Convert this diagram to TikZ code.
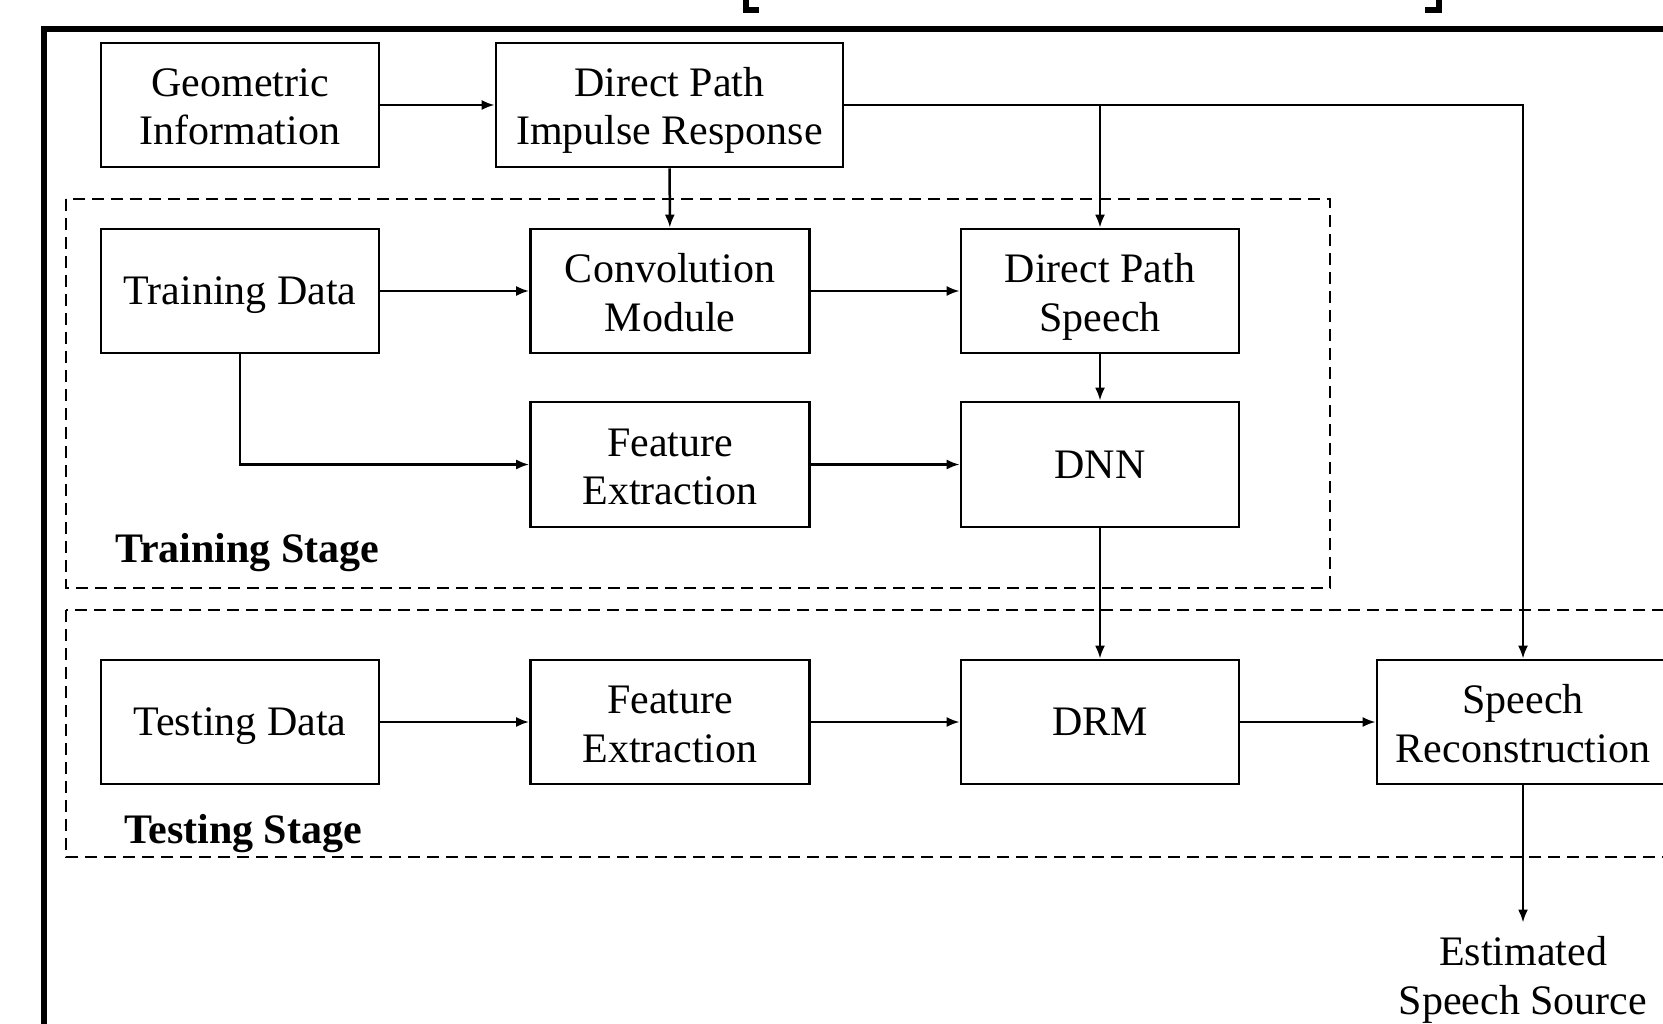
\documentclass[tikz,border=0pt]{standalone}
\usepackage{fontspec}
\setmainfont{Liberation Serif}
\usetikzlibrary{arrows.meta}
\newcommand{\Sone}[1]{\rule[-10pt]{0pt}{47.4pt}#1}
\newcommand{\Stwo}[2]{\rule{0pt}{41.7pt}#1\\\rule[-10pt]{0pt}{10pt}#2}
\tikzset{
  blk/.style={draw, line width=2.6pt, rectangle, inner sep=0pt, align=center,
    minimum height=124pt, font=\fontsize{42}{48.3}\selectfont},
  conn/.style={line width=2.5pt, -{Latex[length=13pt,width=10pt]}},
  plain/.style={line width=2.5pt},
  stagebox/.style={line width=2.6pt, dash pattern=on 12pt off 7pt},
  stagelbl/.style={anchor=base west, inner sep=0pt, font=\fontsize{42}{48}\selectfont\bfseries},
  frame/.style={line width=6pt},
}
\begin{document}
\begin{tikzpicture}[x=1pt,y=-1pt]
\clip (0,0) rectangle (1663,1024);
\fill[white] (0,0) rectangle (1663,1024);
% outer frame and cropped brackets
\draw[frame] (44,29) rectangle (1720,1100);
\draw[frame] (759,10) -- (746,10) -- (746,-5);
\draw[frame] (1425,10) -- (1439,10) -- (1439,-5);
% stage boxes
\draw[stagebox] (66,199) rectangle (1330,588);
\draw[stagebox] (66,610) rectangle (1720,857);
\node[stagelbl] (trs) at (115,562) {Training Stage};
\node[stagelbl] (tss) at (124,843) {Testing Stage};
% blocks
\node[blk, minimum width=278pt] (geo) at (240,105) {\Stwo{Geometric}{Information}};
\node[blk, minimum width=347pt] (dpir) at (669.5,105) {\Stwo{Direct Path}{Impulse Response}};
\node[blk, minimum width=278pt] (train) at (240,291) {\Sone{Training Data}};
\node[blk, minimum width=279pt] (conv) at (670,291) {\Stwo{Convolution}{Module}};
\node[blk, minimum width=278pt] (dps) at (1100,291) {\Stwo{Direct Path}{Speech}};
\node[blk, minimum width=279pt, minimum height=125pt] (fe1) at (670,464.5) {\Stwo{Feature}{Extraction}};
\node[blk, minimum width=278pt, minimum height=125pt] (dnn) at (1100,464.5) {\Sone{DNN}};
\node[blk, minimum width=278pt] (test) at (240,722) {\Sone{Testing Data}};
\node[blk, minimum width=279pt] (fe2) at (670,722) {\Stwo{Feature}{Extraction}};
\node[blk, minimum width=278pt] (drm) at (1100,722) {\Sone{DRM}};
\node[blk, minimum width=292pt] (sr) at (1523,722) {\Stwo{Speech}{Reconstruction}};
\node[inner sep=0pt, align=center, font=\fontsize{42}{48.3}\selectfont] (est) at (1523,975)
  {\rule{0pt}{40pt}Estimated\\\rule[-10pt]{0pt}{10pt}Speech Source};
% connectors
\coordinate (br) at (1100,105);
\coordinate (tr) at (1523,105);
\draw[conn] (geo) -- (dpir);
\draw[plain] (dpir.east) -- (br);
\draw[conn] (br) -- (tr) -- (sr.north);
\draw[conn] (br) -- (dps.north);
\draw[conn] (dpir) -- (conv);
\draw[conn] (train) -- (conv);
\draw[conn] (conv) -- (dps);
\draw[conn] (dps) -- (dnn);
\draw[conn] (train.south) |- (fe1.west);
\draw[conn] (fe1) -- (dnn);
\draw[conn] (dnn) -- (drm);
\draw[conn] (test) -- (fe2);
\draw[conn] (fe2) -- (drm);
\draw[conn] (drm) -- (sr);
\draw[conn, shorten >=3pt] (sr.south) -- (est.north);
\end{tikzpicture}
\end{document}
